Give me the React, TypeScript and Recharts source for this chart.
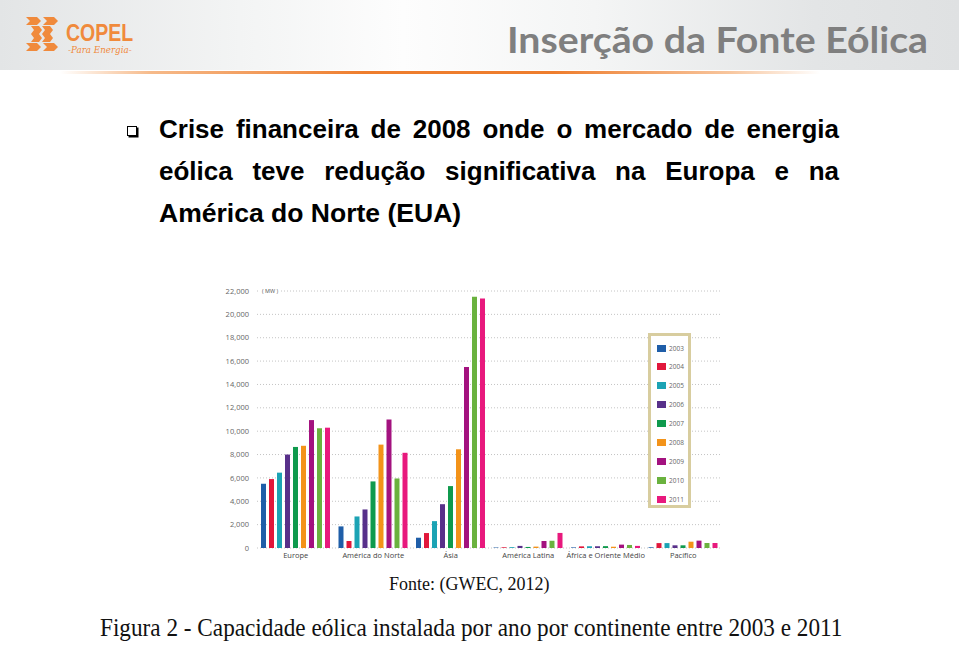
import React, { useLayoutEffect, useRef, useState } from "react";
import { BarChart, Bar, XAxis, YAxis, CartesianGrid, Legend } from "recharts";

// capacity installed per year (MW)
const categories = ["Europe", "América do Norte", "Ásia", "América Latina", "África e Oriente Médio", "Pacífico"];
const years = ["2003", "2004", "2005", "2006", "2007", "2008", "2009", "2010", "2011"];
const yearColors = ["#1f5ea8", "#e1173b", "#1ca3b4", "#58308a", "#0f9a4d", "#f39319", "#a3127f", "#6ab23e", "#e8197d"];

const europe = [5500, 5900, 6450, 8000, 8650, 8750, 10950, 10250, 10300];
const northAmerica = [1850, 600, 2700, 3300, 5700, 8850, 11000, 5950, 8150];
const asia = [880, 1280, 2300, 3750, 5300, 8450, 15500, 21500, 21350];
const latinAmerica = [40, 60, 70, 180, 90, 120, 600, 620, 1290];
const africaMiddleEast = [50, 140, 150, 150, 160, 110, 290, 260, 180];
const pacific = [60, 420, 420, 230, 230, 540, 630, 430, 430];

const yTicks = [0, 2000, 4000, 6000, 8000, 10000, 12000, 14000, 16000, 18000, 20000, 22000];

const regionValues = [europe, northAmerica, asia, latinAmerica, africaMiddleEast, pacific];
const chartData = categories.map((name, i) => {
  const row: { [key: string]: any } = { name };
  years.forEach((y, j) => {
    row[y] = regionValues[i][j];
  });
  return row;
});

// squeeze/stretch a single line of text to a given width
function Fit({ width, style, children }: { width: number; style?: React.CSSProperties; children: React.ReactNode }) {
  const ref = useRef<HTMLSpanElement>(null);
  const [scale, setScale] = useState(1);
  useLayoutEffect(() => {
    if (ref.current && ref.current.offsetWidth > 0) setScale(width / ref.current.offsetWidth);
  }, [width]);
  return (
    <span
      ref={ref}
      style={{ display: "inline-block", whiteSpace: "nowrap", transform: `scaleX(${scale})`, transformOrigin: "left", ...style }}
    >
      {children}
    </span>
  );
}

function YearLegend(props: any) {
  const items = props.payload || [];
  return (
    <div
      style={{
        width: 37,
        height: 169,
        border: "3px solid #d8cd9f",
        background: "#fff",
        position: "relative",
      }}
    >
      {items.map((entry: any, i: number) => (
        <div
          key={`leg-${i}`}
          style={{ position: "absolute", left: 6, top: 8 + i * 18.9, display: "flex", alignItems: "center", height: 8 }}
        >
          <span style={{ width: 9, height: 7, background: entry.color, display: "inline-block" }} />
          <span style={{ marginLeft: 3, fontSize: 6.5, color: "#666", fontFamily: "'Open Sans', sans-serif" }}>{entry.value}</span>
        </div>
      ))}
    </div>
  );
}

function CopelLogo() {
  const c = "#f08a3c";
  return (
    <svg width={34} height={34} style={{ position: "absolute", left: 25, top: 17 }}>
      <polygon points="1,0 12,0 16,4 12,8 1,8 5,4" fill={c} />
      <polygon points="18,0 29,0 33,4 29,8 18,8 22,4" fill={c} />
      <polygon points="6,9 14,9 17,13 14,17 6,17 9,13" fill={c} />
      <polygon points="17,9 25,9 28,13 25,17 17,17 20,13" fill={c} />
      <polygon points="6,17 14,17 17,21 14,25 6,25 9,21" fill={c} />
      <polygon points="17,17 25,17 28,21 25,25 17,25 20,21" fill={c} />
      <polygon points="1,26 12,26 16,30 12,34 1,34 5,30" fill={c} />
      <polygon points="18,26 29,26 33,30 29,34 18,34 22,30" fill={c} />
    </svg>
  );
}

export default function App() {
  return (
    <div style={{ position: "absolute", left: 0, top: 0, width: 959, height: 645, background: "#fff", overflow: "hidden" }}>
      {/* header band */}
      <div
        style={{
          position: "absolute",
          left: 0,
          top: 0,
          width: 959,
          height: 70,
          background: "linear-gradient(to right, #e3e5e6 0%, #f3f4f4 25%, #fdfdfd 42%, #f4f5f5 62%, #e3e5e6 85%, #dfe1e2 100%)",
        }}
      />
      <div
        style={{
          position: "absolute",
          left: 60,
          top: 71,
          width: 760,
          height: 3,
          background: "linear-gradient(to right, rgba(240,130,50,0) 0%, rgba(240,140,60,0.6) 12%, #ee7d2d 40%, #ee7d2d 65%, rgba(240,140,60,0.5) 88%, rgba(240,140,60,0) 100%)",
        }}
      />
      <CopelLogo />
      <div style={{ position: "absolute", left: 66, top: 22, fontFamily: "'Liberation Sans', Arial, sans-serif", fontWeight: 700, fontSize: 23, lineHeight: "23px", color: "#f08a3c" }}>
        <Fit width={67}>COPEL</Fit>
      </div>
      <div style={{ position: "absolute", left: 68, top: 45, fontFamily: "'DejaVu Serif', serif", fontStyle: "italic", fontSize: 9, lineHeight: "10px", color: "#f08a3c" }}>
        <Fit width={64}>-Para Energia-</Fit>
      </div>
      <div style={{ position: "absolute", left: 507, top: 20, fontFamily: "Lato, 'Open Sans', sans-serif", fontWeight: 700, fontSize: 37, lineHeight: "37px", color: "#7f7f7f" }}>
        <Fit width={421}>Inserção da Fonte Eólica</Fit>
      </div>

      {/* bullet text */}
      <div style={{ position: "absolute", left: 127, top: 126, width: 8, height: 8, border: "1px solid #000", boxShadow: "1.5px 1.5px 0 #000" }} />
      <div style={{ position: "absolute", left: 159, top: 116, width: 680, fontFamily: "'Liberation Sans', Arial, sans-serif", fontWeight: 700, fontSize: 26, lineHeight: "26px", color: "#000", whiteSpace: "nowrap", textAlign: "justify", textAlignLast: "justify" }}>
        Crise financeira de 2008 onde o mercado de energia
      </div>
      <div style={{ position: "absolute", left: 159, top: 158, width: 680, fontFamily: "'Liberation Sans', Arial, sans-serif", fontWeight: 700, fontSize: 26, lineHeight: "26px", color: "#000", whiteSpace: "nowrap", textAlign: "justify", textAlignLast: "justify" }}>
        eólica teve redução significativa na Europa e na
      </div>
      <div style={{ position: "absolute", left: 159, top: 200, fontFamily: "'Liberation Sans', Arial, sans-serif", fontWeight: 700, fontSize: 26, lineHeight: "26px", color: "#000", whiteSpace: "nowrap" }}>
        <Fit width={302}>América do Norte (EUA)</Fit>
      </div>

      {/* chart */}
      <div style={{ position: "absolute", left: 200, top: 280 }}>
        <BarChart
          width={530}
          height={290}
          data={chartData}
          margin={{ top: 11, right: 8, bottom: 2, left: 0 }}
          barCategoryGap={4}
          barGap={3}
        >
          <CartesianGrid vertical={false} stroke="#c4c4c4" strokeDasharray="1 2" />
          <XAxis
            dataKey="name"
            axisLine={false}
            tickLine={false}
            height={20}
            tickSize={3}
            interval={0}
            tick={{ fontSize: 7.5, fill: "#444", fontFamily: "'Open Sans', sans-serif" }}
          />
          <YAxis
            domain={[0, 22000]}
            ticks={yTicks}
            width={57}
            axisLine={false}
            tickLine={false}
            tickFormatter={(v: number) => v.toLocaleString("en-US")}
            tick={{ fontSize: 7.5, fill: "#666", fontFamily: "'Open Sans', sans-serif" }}
          />
          <Legend
            layout="vertical"
            align="center"
            verticalAlign="middle"
            content={<YearLegend />}
            wrapperStyle={{ left: 448, top: 53, width: 43, height: 175 }}
          />
          {years.map((y, i) => (
            <Bar key={y} dataKey={y} name={y} fill={yearColors[i]} isAnimationActive={false} />
          ))}
        </BarChart>
        <div style={{ position: "absolute", left: 59, top: 7, background: "#fff", padding: "0 3px", fontSize: 5.5, color: "#555", fontFamily: "'Open Sans', sans-serif" }}>
          ( MW )
        </div>
      </div>

      {/* captions */}
      <div style={{ position: "absolute", left: 389, top: 575, fontFamily: "'Liberation Serif', 'Times New Roman', serif", fontSize: 18, lineHeight: "18px", color: "#111" }}>
        <Fit width={160}>Fonte: (GWEC, 2012)</Fit>
      </div>
      <div style={{ position: "absolute", left: 100, top: 615, fontFamily: "'Liberation Serif', 'Times New Roman', serif", fontSize: 26, lineHeight: "26px", color: "#111" }}>
        <Fit width={742}>Figura 2 - Capacidade eólica instalada por ano por continente entre 2003 e 2011</Fit>
      </div>
    </div>
  );
}
